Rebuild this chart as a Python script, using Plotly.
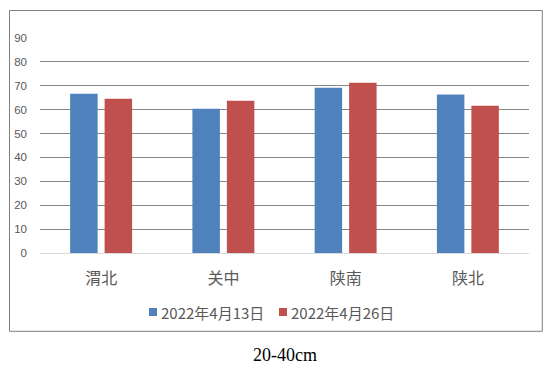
import plotly.graph_objects as go

categories = ["渭北", "关中", "陕南", "陕北"]
series_names = ["2022年4月13日", "2022年4月26日"]
values_0413 = [66.7, 60.4, 69.2, 66.3]
values_0426 = [64.6, 63.7, 71.3, 61.6]
y_ticks = [0, 10, 20, 30, 40, 50, 60, 70, 80, 90]
title_text = "20-40cm"

colors = ["#4F81BD", "#C0504D"]

fig = go.Figure()
for name, vals, c in zip(series_names, [values_0413, values_0426], colors):
    fig.add_trace(go.Bar(x=categories, y=vals, name=name, marker=dict(color=c, line=dict(width=0))))

L, R, T, B = 40, 29, 38, 122
pw = 558 - L - R
ph = 375 - T - B

def px_x(p):
    return (p - L) / pw

def px_y(p):
    return (375 - B - p) / ph

fig.update_layout(
    width=558, height=375,
    margin=dict(l=L, r=R, t=T, b=B),
    paper_bgcolor="white", plot_bgcolor="white",
    barmode="group", bargap=0.436, bargroupgap=0.203,
    font=dict(family="Noto Sans CJK SC, Microsoft YaHei, sans-serif", color="#595959"),
    xaxis=dict(showgrid=False, showline=True, linecolor="#D9D9D9", linewidth=1,
               ticks="", tickfont=dict(size=16, color="#595959"), ticklabelstandoff=11),
    yaxis=dict(range=[0, 90], tickvals=y_ticks, showgrid=True, gridcolor="#868686", gridwidth=1,
               zeroline=False, showline=False, ticks="",
               tickfont=dict(size=11.5, color="#595959", family="Liberation Sans, Arial, sans-serif"),
               ticklabelstandoff=12),
    showlegend=False,
)

# outer chart border
fig.add_shape(type="rect", xref="paper", yref="paper",
              x0=px_x(9.5), x1=px_x(542.3), y0=px_y(331.3), y1=px_y(10.5),
              line=dict(color="#7F7F7F", width=1), fillcolor="rgba(0,0,0,0)", layer="below")

# legend (custom, to match square size / spacing)
legend_items = [(series_names[0], colors[0], 149), (series_names[1], colors[1], 279)]
for name, c, x0 in legend_items:
    fig.add_shape(type="rect", xref="paper", yref="paper",
                  x0=px_x(x0), x1=px_x(x0 + 8), y0=px_y(316), y1=px_y(308),
                  line=dict(width=0), fillcolor=c)
    fig.add_annotation(text=name, xref="paper", yref="paper",
                       x=px_x(x0 + 10), y=px_y(312), xanchor="left", yanchor="middle",
                       showarrow=False, font=dict(size=15, color="#595959"))

fig.add_annotation(text=title_text, xref="paper", yref="paper",
                   x=px_x(285), y=px_y(355), xanchor="center", yanchor="middle",
                   showarrow=False,
                   font=dict(size=18, color="#000000", family="Liberation Serif, Times New Roman, serif"))

fig.write_html("out.html", config={"displayModeBar": False},
               post_script="document.body.style.margin='0';")
